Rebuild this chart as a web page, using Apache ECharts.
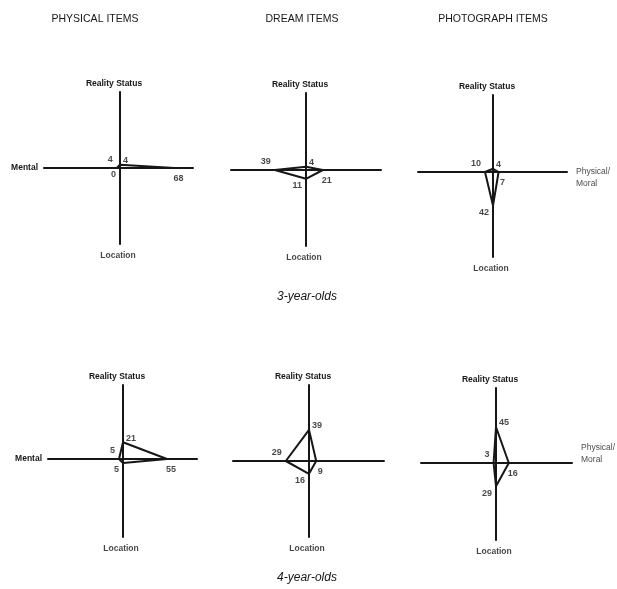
<!DOCTYPE html>
<html><head><meta charset="utf-8">
<script src="https://cdn.jsdelivr.net/npm/echarts@6/dist/echarts.min.js"></script>
<style>html,body{margin:0;padding:0;background:#fff}#c{width:617px;height:589px}</style>
</head><body><div id="c"></div>
<script>
// ---- data ----
const columnTitles = ['PHYSICAL ITEMS', 'DREAM ITEMS', 'PHOTOGRAPH ITEMS'];
const ageGroups = ['3-year-olds', '4-year-olds'];
const axisNames = ['Reality Status', 'Physical/Moral', 'Location', 'Mental'];
// values in order: Reality Status (up), Physical/Moral (right), Location (down), Mental (left)
const physical3 = [4, 68, 0, 4];
const dream3 = [4, 21, 11, 39];
const photo3 = [4, 7, 42, 10];
const physical4 = [21, 55, 5, 5];
const dream4 = [39, 9, 16, 29];
const photo4 = [45, 16, 29, 3];

// ---- layout (pixels) ----
const S = 0.8; // px per unit
const FONT = 'Liberation Sans, Arial, sans-serif';
const panels = [
  {vals: physical3, cx: 120, cy: 168, L: 76, R: 73, U: 76, D: 76, xName: 'Mental'},
  {vals: dream3,    cx: 306, cy: 170, L: 75, R: 75, U: 77, D: 76, xName: ''},
  {vals: photo3,    cx: 493, cy: 172, L: 75, R: 74, U: 77, D: 85, xName: 'Physical/Moral', dy: 6},
  {vals: physical4, cx: 123, cy: 459, L: 75, R: 74, U: 74, D: 78, xName: 'Mental'},
  {vals: dream4,    cx: 309, cy: 461, L: 76, R: 75, U: 76, D: 76, xName: ''},
  {vals: photo4,    cx: 496, cy: 463, L: 75, R: 76, U: 75, D: 77, xName: 'Physical/Moral', dy: -9}
];
const labelStyle = {
  up:    {position: 'right', offset: [0, -4]},
  right: {position: 'bottom', offset: [4, 3]},
  down:  {position: 'left', offset: [-1, 7]},
  left:  {position: 'left', offset: [-1, -8]}
};
const ink = '#161616';
const nameFont = {fontFamily: FONT, fontSize: 8.5, fontWeight: 'bold', color: ink};

const grid = [], xAxis = [], yAxis = [], series = [];
panels.forEach((p, i) => {
  grid.push({left: p.cx - p.L, top: p.cy - p.U, width: p.L + p.R, height: p.U + p.D});
  const isMental = p.xName === axisNames[3];
  xAxis.push({
    type: 'value', gridIndex: i, min: -p.L / S, max: p.R / S,
    axisLine: {onZero: true, lineStyle: {color: ink, width: 2}},
    axisTick: {show: false}, axisLabel: {show: false}, splitLine: {show: false},
    name: isMental ? p.xName : '', nameLocation: 'start', nameGap: 6,
    nameTextStyle: {...nameFont, verticalAlign: 'middle', align: 'right'}
  });
  yAxis.push({
    type: 'value', gridIndex: i, min: -p.D / S, max: p.U / S,
    axisLine: {onZero: true, lineStyle: {color: ink, width: 2}},
    axisTick: {show: false}, axisLabel: {show: false}, splitLine: {show: false},
    name: axisNames[0], nameLocation: 'end', nameGap: 4,
    nameTextStyle: {...nameFont, align: 'center', padding: [0, 12, 0, 0]}
  });
  const [up, right, down, left] = p.vals;
  series.push({
    type: 'line', xAxisIndex: i, yAxisIndex: i, showSymbol: false, silent: true,
    data: [[0, up], [right, 0], [0, -down], [-left, 0], [0, up]],
    lineStyle: {color: ink, width: 2}, z: 5
  });
  const pts = [
    {value: [0, up, up], dir: 'up'},
    {value: [right, 0, right], dir: 'right'},
    {value: [0, -down, down], dir: 'down'},
    {value: [-left, 0, left], dir: 'left'}
  ];
  series.push({
    type: 'scatter', xAxisIndex: i, yAxisIndex: i, symbolSize: 0, silent: true,
    data: pts.map(d => ({value: d.value, label: {show: true, ...labelStyle[d.dir],
      formatter: String(d.value[2]), fontFamily: FONT, fontSize: 9, fontWeight: 'bold', color: ink, distance: 3}})),
    z: 6
  });
  // axis-end names placed through the panel's scales
  const names = [{value: [0, -p.D / S], label: {show: true, position: 'bottom', distance: 7, offset: [-2, 0],
      formatter: axisNames[2], ...nameFont}}];
  if (p.xName === axisNames[1]) {
    names.push({value: [p.R / S, 0], label: {show: true, position: 'right', distance: 9, offset: [0, p.dy],
      formatter: 'Physical/\nMoral', ...nameFont, fontWeight: 'normal', lineHeight: 12, align: 'left'}});
  }
  series.push({type: 'scatter', xAxisIndex: i, yAxisIndex: i, symbolSize: 0, silent: true, data: names, z: 6});
});

const titles = [];
const colX = [95, 302, 493];
columnTitles.forEach((t, i) => titles.push({text: t, left: colX[i], top: 14, padding: 0, textAlign: 'center',
  textStyle: {fontFamily: FONT, fontSize: 10.5, fontWeight: 'normal', color: ink}}));
const ageY = [291, 572];
ageGroups.forEach((t, i) => titles.push({text: t, left: 307, top: ageY[i], padding: 0, textAlign: 'center',
  textStyle: {fontFamily: FONT, fontSize: 12, fontStyle: 'italic', fontWeight: 'normal', color: ink}}));

const chart = echarts.init(document.getElementById('c'), null, {renderer: 'canvas'});
chart.setOption({animation: false, backgroundColor: '#fff', title: titles, grid, xAxis, yAxis, series});
</script></body></html>
